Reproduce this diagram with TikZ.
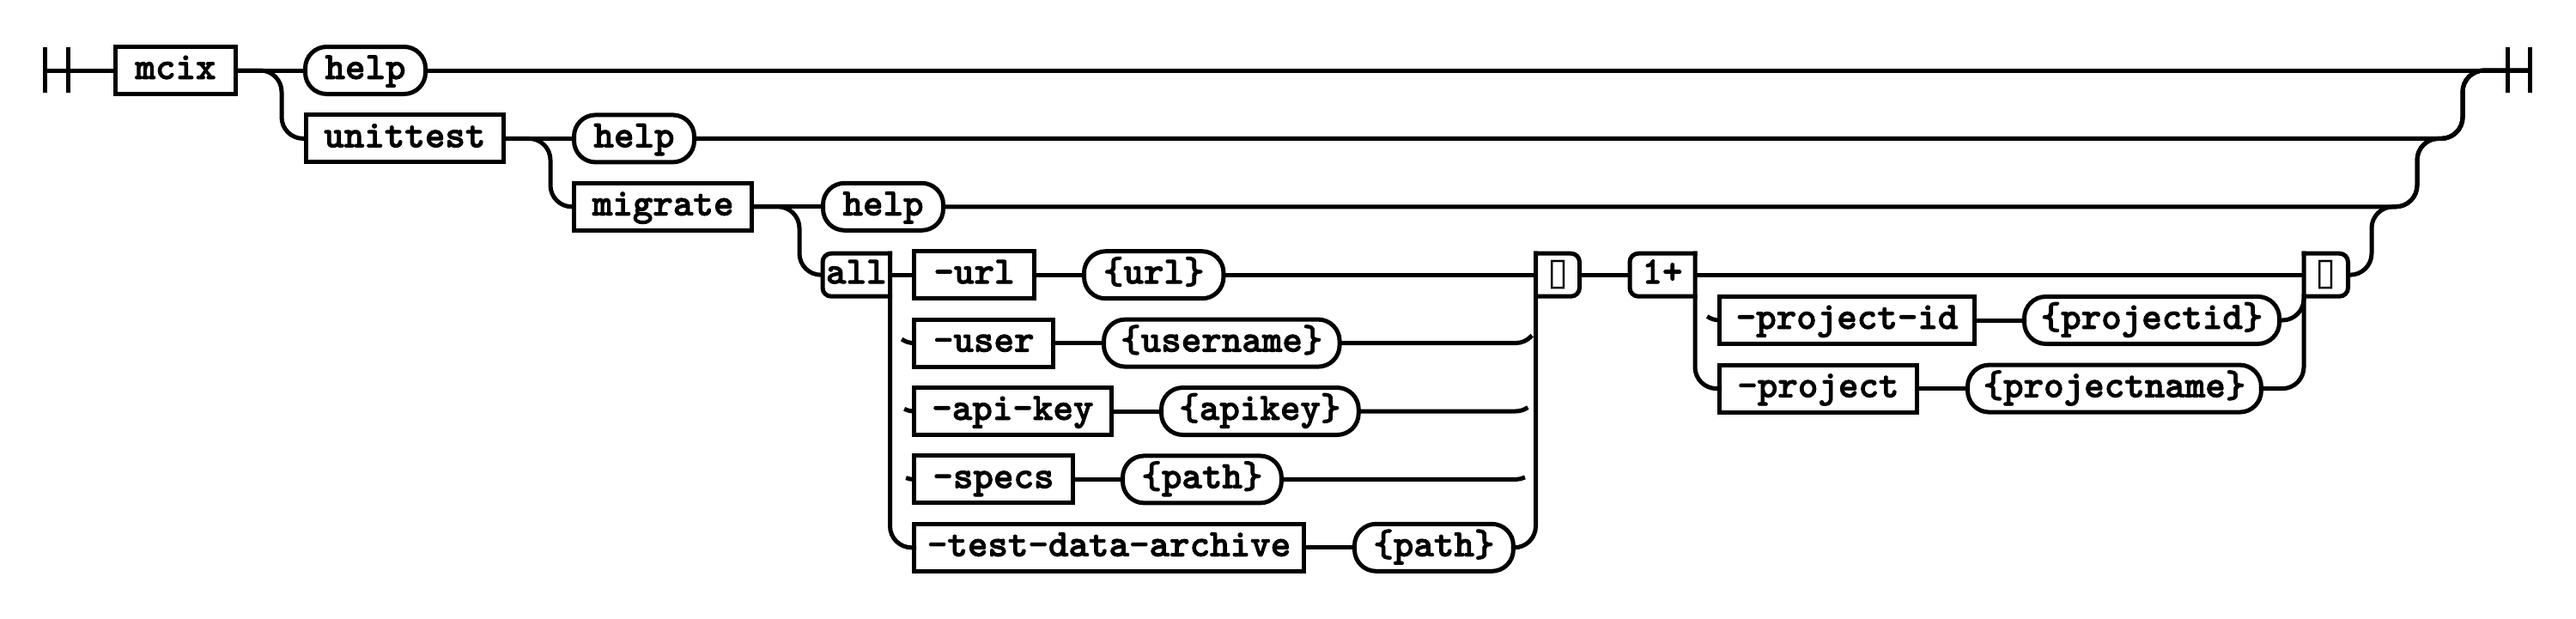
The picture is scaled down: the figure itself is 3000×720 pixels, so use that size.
\documentclass[tikz,border=0pt]{standalone}
\usepackage{fontspec}
\newfontfamily\symfont{DejaVu Sans}
\newfontfamily\rrfont[FakeBold=2]{lmmonolt10-bold.otf}
\newcommand\rr[6]{\node[#1, anchor=west, minimum width={(22.43*#5+50.3)*0.25pt}] (#2) at (#3,#4) {#6};}
\begin{document}
\begin{tikzpicture}[x=0.25pt,y=-0.25pt, line width=1.25pt,
  every node/.style={outer sep=0pt, inner sep=0pt, font=\rrfont\fontsize{11.2pt}{12pt}\selectfont, text height=7pt, text depth=2pt},
  nt/.style={draw, rectangle, minimum height=13.75pt},
  tm/.style={draw, rectangle, rounded corners=6.25pt, minimum height=13.75pt},
  lbl/.style={rectangle, minimum height=12.5pt},
  lblbox/.style={rounded corners=2.5pt, line cap=rect},
  rbend/.style={rounded corners=6.25pt},
  vrbend/.style={rounded corners=6.25pt, line cap=rect},
  tofu/.style={font=\symfont\fontsize{11pt}{11pt}\selectfont, text height=, text depth=},
]
\fill[white] (0,0) rectangle (3000,720);
\useasboundingbox (0,0) rectangle (3000,720);

% start / end markers
\coordinate (st) at (52.5,82);
\coordinate (en) at (2946.5,82);
\draw (52.5,55) -- (52.5,108);
\draw (79.5,55) -- (79.5,108);
\draw (2920.5,55) -- (2920.5,108);
\draw (2946.5,55) -- (2946.5,108);

% nodes
\rr{nt}{mcix}{134.5}{82}{4}{mcix}
\rr{tm}{help1}{355.5}{82}{4}{help}
\rr{nt}{unittest}{356.5}{161.4}{8}{unittest}
\rr{tm}{help2}{668.5}{161.4}{4}{help}
\rr{nt}{migrate}{668.5}{240.8}{7}{migrate}
\rr{tm}{help3}{958.5}{240.8}{4}{help}
\node[lbl, minimum width=19.625pt] (all) at (997.25,320.2) {all};
\rr{nt}{url}{1064.5}{320.2}{4}{-url}
\rr{tm}{urlv}{1262.5}{320.2}{5}{\{url\}}
\rr{nt}{user}{1064.5}{399.6}{5}{-user}
\rr{tm}{userv}{1285.5}{399.6}{10}{\{username\}}
\rr{nt}{apikey}{1064.5}{479}{8}{-api-key}
\rr{tm}{apikeyv}{1352.5}{479}{8}{\{apikey\}}
\rr{nt}{specs}{1064.5}{558.4}{6}{-specs}
\rr{tm}{specsv}{1307.5}{558.4}{6}{\{path\}}
\rr{nt}{tda}{1064.5}{637.8}{18}{-test-data-archive}
\rr{tm}{tdav}{1577.5}{637.8}{6}{\{path\}}
\node[lbl, minimum width=12.75pt] (rep1) at (1814,320.2) {};
\node[tofu] (rep1t) at (1814.5,320.2) {▯};
\node[lbl, minimum width=19pt] (any) at (1936,320.2) {1+};
\rr{nt}{pid}{2002.5}{373}{11}{-project-id}
\rr{tm}{pidv}{2357.5}{373}{11}{\{projectid\}}
\rr{nt}{proj}{2002.5}{452.6}{8}{-project}
\rr{tm}{projv}{2291.5}{452.6}{13}{\{projectname\}}
\node[lbl, minimum width=12.875pt] (rep2) at (2708.75,320.2) {};
\node[tofu] (rep2t) at (2709,320.2) {▯};

% label boxes
\draw[lblbox] (all.north east) -- (all.north west) -- (all.south west) -- (all.south east);
\draw[lblbox] (any.north east) -- (any.north west) -- (any.south west) -- (any.south east);
\draw[lblbox] (rep1.north west) -- (rep1.north east) -- (rep1.south east) -- (rep1.south west);
\draw[lblbox] (rep2.north west) -- (rep2.north east) -- (rep2.south east) -- (rep2.south west);

% junctions
\coordinate (j1) at (328,82);
\coordinate (j2) at (641,161.4);
\coordinate (j3) at (931,240.8);
\coordinate (k2) at (2868,161.4);
\coordinate (k3) at (2815,240.8);
\coordinate (k4) at (2762,320.2);
\coordinate (h5) at (1765,399.6);
\coordinate (h6) at (1765,479);
\coordinate (h7) at (1765,558.4);
\coordinate (h9) at (2658,373);

% main spine
\draw (st) -- (mcix.west);
\draw (mcix.east) -- (help1.west);
\draw (help1.east) -- (en);
\draw[rbend] (mcix.east) -- (j1) |- (unittest.west);
\draw (unittest.east) -- (help2.west);
\draw[rbend] (unittest.east) -- (j2) |- (migrate.west);
\draw (migrate.east) -- (help3.west);
\draw[rbend] (migrate.east) -- (j3) |- (all.west);

% right joins
\draw[rbend] (help2.east) -- (k2) |- (en);
\draw[rbend] (help3.east) -- (k3) |- (k2) |- (en);
\draw[rbend] (rep2.east) -- (k4) |- (k3) |- (k2) |- (en);

% all group
\draw[vrbend] (all.north east) -- (all.north east |- tda.west) -- (tda.west);
\draw (all.east) -- (url.west);
\draw (url.east) -- (urlv.west);
\draw (urlv.east) -- (rep1.west);
\draw (user.west) arc[start angle=270, end angle=235, radius=6.25pt];
\draw (user.east) -- (userv.west);
\draw (userv.east) -- (h5) arc[start angle=270, end angle=320, radius=6.25pt];
\draw (apikey.west) arc[start angle=270, end angle=243, radius=6.25pt];
\draw (apikey.east) -- (apikeyv.west);
\draw (apikeyv.east) -- (h6) arc[start angle=270, end angle=305, radius=6.25pt];
\draw (specs.west) arc[start angle=270, end angle=248, radius=6.25pt];
\draw (specs.east) -- (specsv.west);
\draw (specsv.east) -- (h7) arc[start angle=270, end angle=296, radius=6.25pt];
\draw (tda.east) -- (tdav.west);
\draw[vrbend] (tdav.east) -- (tdav.east -| rep1.north west) -- (rep1.north west);

% 1+ group
\draw (rep1.east) -- (any.west);
\draw (any.east) -- (rep2.west);
\draw[vrbend] (any.north east) -- (any.north east |- proj.west) -- (proj.west);
\draw (pid.west) arc[start angle=270, end angle=235, radius=6.25pt];
\draw (pid.east) -- (pidv.west);
\draw (pidv.east) -- (h9) arc[start angle=270, end angle=360, radius=6.25pt];
\draw (proj.east) -- (projv.west);
\draw[vrbend] (projv.east) -- (projv.east -| rep2.north west) -- (rep2.north west);
\end{tikzpicture}
\end{document}
